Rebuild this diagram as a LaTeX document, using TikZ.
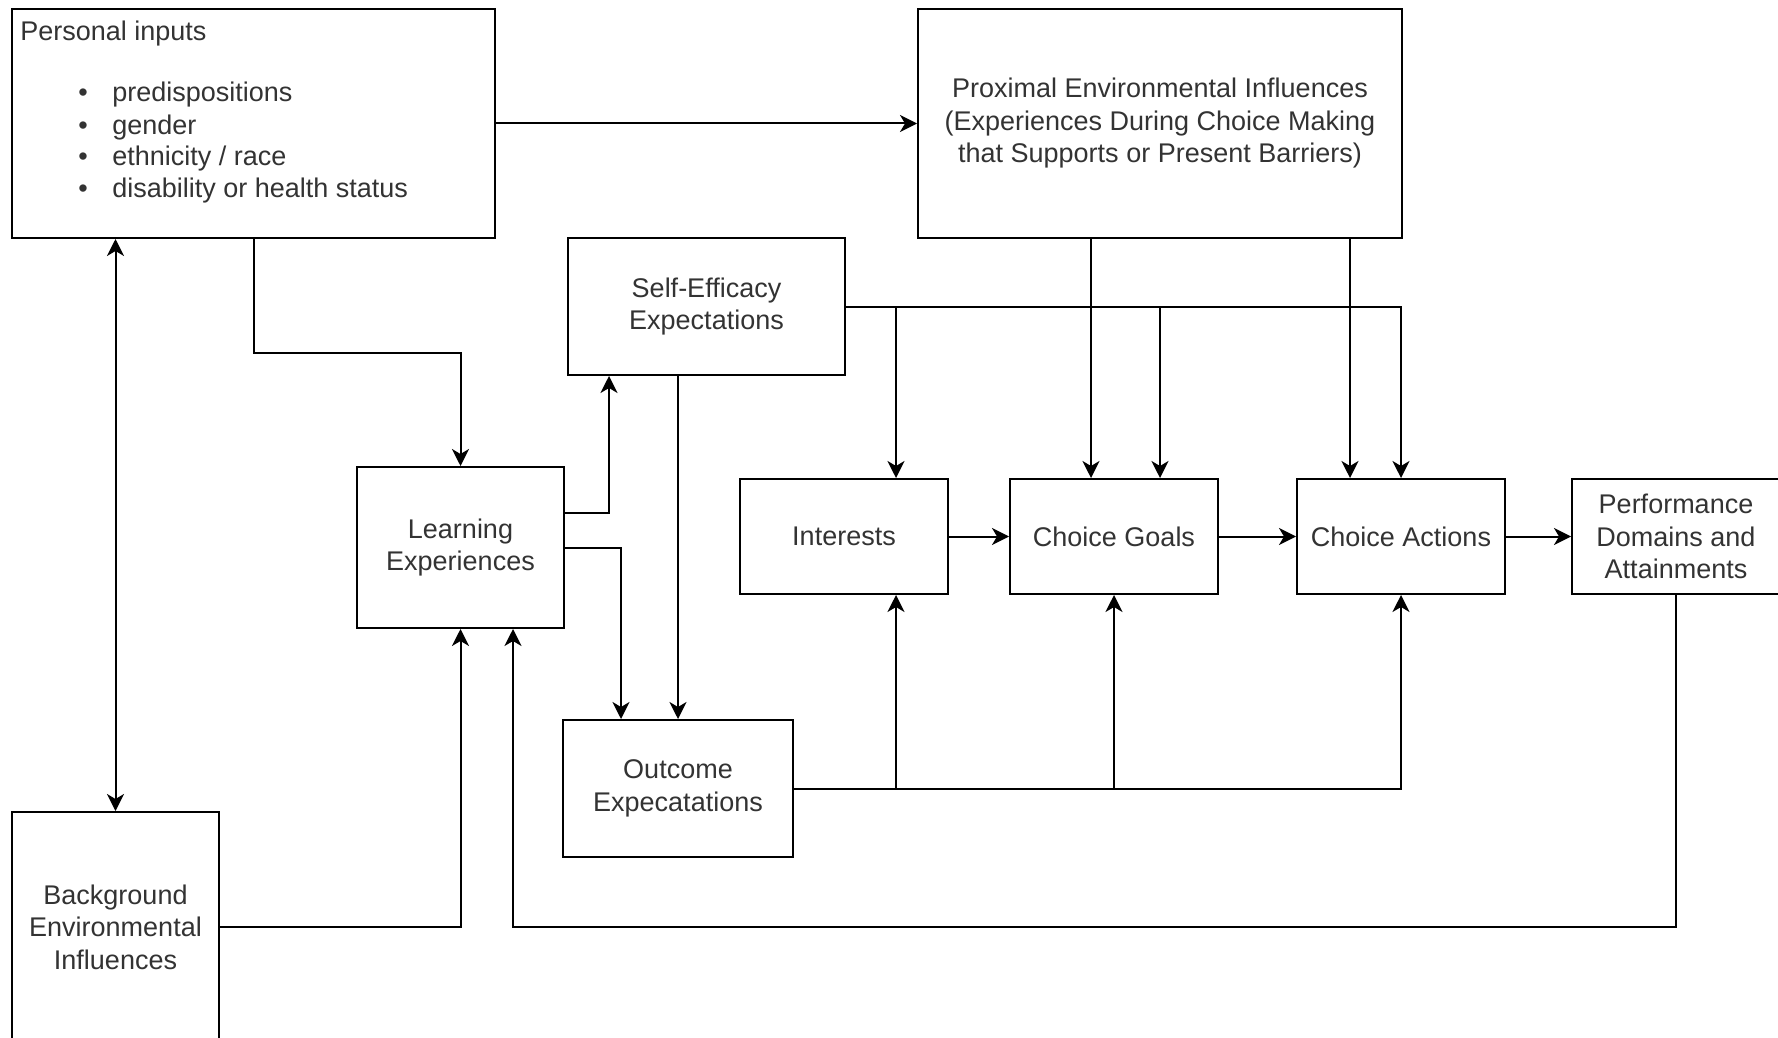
\documentclass[tikz,border=0pt]{standalone}
\usepackage{fontspec}
\setmainfont{Liberation Sans}
\usetikzlibrary{arrows.meta}
\begin{document}
\begin{tikzpicture}[x=0.5pt,y=-0.5pt,
  txt/.style={text=black!80, font=\fontsize{13.5}{16.25}\selectfont},
  box/.style={txt, draw=black, line width=1pt, fill=white, inner sep=0pt, align=center},
  smallbox/.style={box, minimum width=104pt, minimum height=57.5pt},
  lbl/.style={txt, inner sep=0pt},
  tip/.tip={Stealth[length=8.5pt,width=8.5pt,inset=2.5pt]},
  arr/.style={draw=black, line width=1pt, -tip},
  arrboth/.style={draw=black, line width=1pt, tip-tip}
]
\useasboundingbox (0,0) rectangle (1778,1038);
\fill[white] (0,0) rectangle (1778,1038);

% boxes
\node[box, minimum width=241.5pt, minimum height=114.5pt] (pers) at (253.5,123.5) {};
\node[box, minimum width=242pt, minimum height=114.5pt] (prox) at (1160,123.5)
  {Proximal Environmental Influences\\(Experiences During Choice Making\\that Supports or Present Barriers)};
\node[box, minimum width=138.5pt, minimum height=68.5pt] (self) at (706.5,306.5) {Self-Efficacy\\Expectations};
\node[box, minimum width=103.5pt, minimum height=80.5pt] (learn) at (460.5,547.5) {Learning\\Experiences};
\node[smallbox] (inter) at (844,536.5) {Interests};
\node[smallbox] (goals) at (1114,536.5) {Choice Goals};
\node[smallbox] (acts) at (1401,536.5) {Choice Actions};
\node[smallbox] (perf) at (1676,536.5) {Performance\\Domains and\\Attainments};
\node[box, minimum width=115pt, minimum height=68.5pt] (out) at (678,788.5) {Outcome\\Expecatations};
\node[box, minimum width=103.5pt, minimum height=115pt] (back) at (115.5,927) {Background\\Environmental\\Influences};

% personal inputs text
\node[lbl, anchor=base west] (perstitle) at (20,41) {Personal inputs};
\node[lbl, anchor=base] (persb1) at (83,102) {\textbullet};
\node[lbl, anchor=base] (persb2) at (83,134) {\textbullet};
\node[lbl, anchor=base] (persb3) at (83,166) {\textbullet};
\node[lbl, anchor=base] (persb4) at (83,198) {\textbullet};
\node[lbl, anchor=base west] (persi1) at (112,102) {predispositions};
\node[lbl, anchor=base west] (persi2) at (112,134) {gender};
\node[lbl, anchor=base west] (persi3) at (112,166) {ethnicity / race};
\node[lbl, anchor=base west] (persi4) at (112,198) {disability or health status};

% connectors
\draw[arr] (pers.east) -- (prox.west);
\draw[arr] (pers.south) -- (pers.south |- 0,353) -| (learn.north);
\draw[arrboth] (pers.south -| back.north) -- (back.north);

\draw[arr] (learn.east |- 0,513) -| (609,0 |- self.south);
\draw[arr] (learn.east) -| (621,0 |- out.north);
\draw[arr] (678,0 |- self.south) -- (out.north);

\draw[arr] (self.east) -| (acts.north);
\draw[arr] (896,0 |- self.east) -- (896,0 |- inter.north);
\draw[arr] (1160,0 |- self.east) -- (1160,0 |- goals.north);

\draw[arr] (1091,0 |- prox.south) -- (1091,0 |- goals.north);
\draw[arr] (1350,0 |- prox.south) -- (1350,0 |- acts.north);

\draw[arr] (inter.east) -- (goals.west);
\draw[arr] (goals.east) -- (acts.west);
\draw[arr] (acts.east) -- (perf.west);

\draw[arr] (out.east) -| (acts.south);
\draw[arr] (896,0 |- out.east) -- (896,0 |- inter.south);
\draw[arr] (out.east -| goals.south) -- (goals.south);

\draw[arr] (back.east) -| (learn.south);
\draw[arr] (perf.south) -- (perf.south |- back.east) -- (513,0 |- back.east) -- (513,0 |- learn.south);
\end{tikzpicture}
\end{document}
